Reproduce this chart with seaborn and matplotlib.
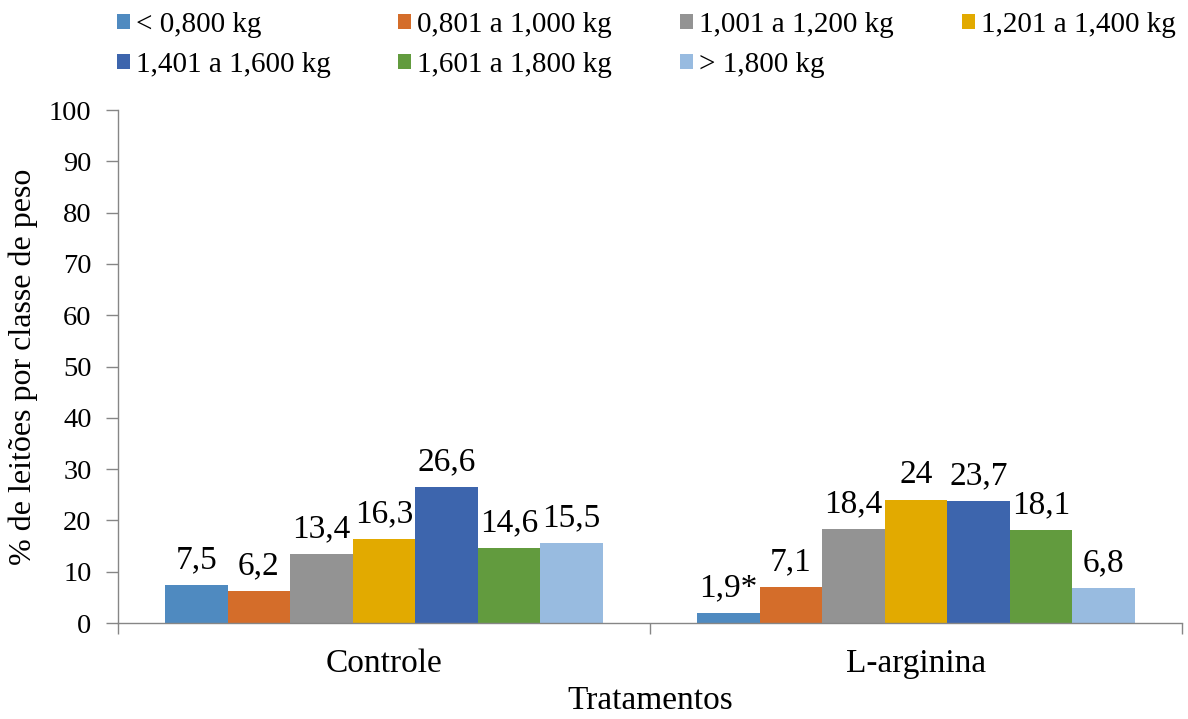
import matplotlib
matplotlib.use("Agg")
import matplotlib.pyplot as plt
import seaborn as sns
import pandas as pd
from matplotlib.patches import Patch

# Weight classes and treatment groups
classes = ["< 0,800 kg", "0,801 a 1,000 kg", "1,001 a 1,200 kg", "1,201 a 1,400 kg",
           "1,401 a 1,600 kg", "1,601 a 1,800 kg", "> 1,800 kg"]
treatments = ["Controle", "L-arginina"]
controle = [7.5, 6.2, 13.4, 16.3, 26.6, 14.6, 15.5]
arginina = [1.9, 7.1, 18.4, 24.0, 23.7, 18.1, 6.8]
arginina_labels = ["1,9*", "7,1", "18,4", "24", "23,7", "18,1", "6,8"]
colors = ["#4f8ac0", "#d46d2a", "#939393", "#e2aa00", "#3d65ad", "#629b3e", "#98bbe0"]

rows = []
for t, vals in zip(treatments, [controle, arginina]):
    for c, v in zip(classes, vals):
        rows.append({"Tratamento": t, "Classe": c, "Valor": v})
df = pd.DataFrame(rows)

sns.set_theme(style="white")
plt.rcParams["font.family"] = ["Liberation Serif", "DejaVu Serif"]
plt.rcParams["text.color"] = "black"
plt.rcParams["axes.labelcolor"] = "black"
plt.rcParams["xtick.color"] = "black"
plt.rcParams["ytick.color"] = "black"

FS = 24
GRAY = "#868686"

fig = plt.figure(figsize=(11.88, 7.19), dpi=100)
ax = fig.add_axes([0.0993, 0.1335, 0.8957, 0.7135])

sns.barplot(data=df, x="Tratamento", y="Valor", hue="Classe", hue_order=classes,
            order=treatments, palette=colors, width=0.823, saturation=1,
            legend=False, ax=ax, edgecolor="none")

def fmt(v):
    return f"{v:.1f}".replace(".", ",")

for i, cont in enumerate(ax.containers):
    labels = [fmt(controle[i]), arginina_labels[i]]
    ax.bar_label(cont, labels=labels, padding=7, fontsize=FS, color="black")

ax.set_ylim(0, 100)
ax.set_yticks(range(0, 101, 10))
ax.set_xlim(-0.5, 1.5)
ax.set_xticks([-0.5, 0.5, 1.5])
ax.set_xticklabels([])
ax.set_xticks([0, 1], minor=True)
ax.set_xticklabels(treatments, minor=True)
ax.tick_params(axis="x", which="major", bottom=True, direction="out", length=8, width=1, color=GRAY)
ax.tick_params(axis="x", which="minor", bottom=False, length=0, pad=18, labelsize=FS)
ax.tick_params(axis="y", left=True, direction="out", length=9, width=1, color=GRAY,
               labelsize=20.5, labelcolor="black", pad=10)

for s in ["top", "right"]:
    ax.spines[s].set_visible(False)
for s in ["left", "bottom"]:
    ax.spines[s].set_color(GRAY)
    ax.spines[s].set_linewidth(1)

ax.set_ylabel("% de leitões por classe de peso", fontsize=23)
ax.yaxis.set_label_coords(-0.0755, 0.5)
ax.set_xlabel("Tratamentos", fontsize=FS, labelpad=5)

# Legend laid out in equal-width columns, filled row by row
col_x = [117, 398, 680, 962]
ncols = 4
for j in range(ncols):
    idx = [k for k in range(len(classes)) if k % ncols == j]
    handles = [Patch(facecolor=colors[k], edgecolor="none", label=classes[k]) for k in idx]
    fig.legend(handles=handles, loc="upper left",
               bbox_to_anchor=(col_x[j] / 1188, 1 - 12 / 719),
               frameon=False, fontsize=21, handlelength=0.45, handleheight=0.45,
               handletextpad=0.2, labelspacing=0.48, borderpad=0, borderaxespad=0)

fig.savefig("out.png", dpi=100, facecolor="white")
